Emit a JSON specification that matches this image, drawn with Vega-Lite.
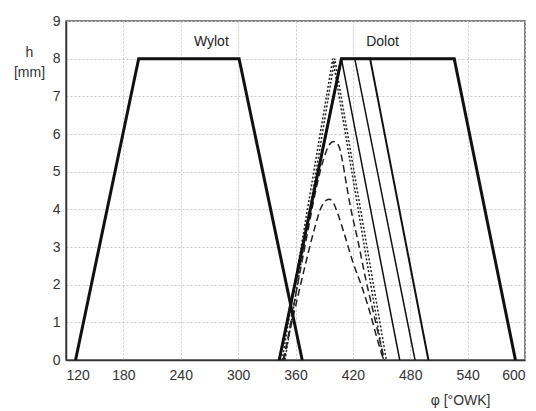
{
  "$schema": "https://vega.github.io/schema/vega-lite/v6.json",
  "autosize": "none",
  "width": 459,
  "height": 339,
  "padding": {"left": 66, "top": 21, "right": 11, "bottom": 51},
  "background": "white",
  "config": {
    "font": "Liberation Sans",
    "view": {"stroke": "#555", "strokeWidth": 1.5},
    "axis": {
      "labelFont": "Liberation Sans", "labelFontSize": 14, "labelColor": "#333",
      "titleFont": "Liberation Sans", "titleFontSize": 14, "titleFontWeight": "normal", "titleColor": "#333",
      "grid": true, "gridColor": "#c8c8c8", "gridDash": [2, 2], "gridWidth": 1,
      "domainColor": "#333", "domainWidth": 1.5, "ticks": false
    }
  },
  "datasets": {
    "curves": [
      {"s": "wylot", "x": 130, "y": 0}, {"s": "wylot", "x": 196, "y": 8}, {"s": "wylot", "x": 301, "y": 8}, {"s": "wylot", "x": 367, "y": 0},
      {"s": "dolot", "x": 343, "y": 0}, {"s": "dolot", "x": 408, "y": 8}, {"s": "dolot", "x": 526, "y": 8}, {"s": "dolot", "x": 590, "y": 0},
      {"s": "a", "x": 343, "y": 0}, {"s": "a", "x": 408, "y": 8}, {"s": "a", "x": 469, "y": 0},
      {"s": "b", "x": 343, "y": 0}, {"s": "b", "x": 408, "y": 8}, {"s": "b", "x": 422, "y": 8}, {"s": "b", "x": 485, "y": 0},
      {"s": "c", "x": 343, "y": 0}, {"s": "c", "x": 408, "y": 8}, {"s": "c", "x": 438, "y": 8}, {"s": "c", "x": 499, "y": 0},
      {"s": "dot1", "x": 346, "y": 0}, {"s": "dot1", "x": 399, "y": 8}, {"s": "dot1", "x": 452, "y": 0},
      {"s": "dot2", "x": 349, "y": 0}, {"s": "dot2", "x": 401, "y": 8}, {"s": "dot2", "x": 455, "y": 0},
      {"s": "d1", "x": 348, "y": 0}, {"s": "d1", "x": 360, "y": 1.7}, {"s": "d1", "x": 372, "y": 3.3}, {"s": "d1", "x": 382, "y": 4.6},
      {"s": "d1", "x": 389, "y": 5.3}, {"s": "d1", "x": 395, "y": 5.7}, {"s": "d1", "x": 400, "y": 5.8}, {"s": "d1", "x": 405, "y": 5.7},
      {"s": "d1", "x": 409, "y": 5.3}, {"s": "d1", "x": 413, "y": 4.7}, {"s": "d1", "x": 418, "y": 4.0}, {"s": "d1", "x": 425, "y": 3.2},
      {"s": "d1", "x": 433, "y": 2.2}, {"s": "d1", "x": 442, "y": 1.2}, {"s": "d1", "x": 453, "y": 0},
      {"s": "d2", "x": 347, "y": 0}, {"s": "d2", "x": 358, "y": 1.2}, {"s": "d2", "x": 370, "y": 2.5}, {"s": "d2", "x": 380, "y": 3.5},
      {"s": "d2", "x": 386, "y": 4.0}, {"s": "d2", "x": 391, "y": 4.22}, {"s": "d2", "x": 395, "y": 4.27}, {"s": "d2", "x": 399, "y": 4.2},
      {"s": "d2", "x": 404, "y": 3.9}, {"s": "d2", "x": 411, "y": 3.35}, {"s": "d2", "x": 420, "y": 2.6}, {"s": "d2", "x": 430, "y": 1.9},
      {"s": "d2", "x": 438, "y": 1.25}, {"s": "d2", "x": 445, "y": 0.6}, {"s": "d2", "x": 452, "y": 0}
    ],
    "labels": [
      {"x": 272, "y": 8.45, "t": "Wylot"},
      {"x": 451, "y": 8.45, "t": "Dolot"}
    ]
  },
  "encoding": {
    "x": {"field": "x", "type": "quantitative",
          "scale": {"domain": [120, 600], "nice": false, "zero": false},
          "axis": {"values": [120, 180, 240, 300, 360, 420, 480, 540, 600], "labelPadding": 8,
                   "title": "φ [°OWK]", "titleAnchor": "start", "titleAlign": "right", "titleX": 424, "titleY": 40, "titleBaseline": "middle"}},
    "y": {"field": "y", "type": "quantitative",
          "scale": {"domain": [0, 9], "nice": false},
          "axis": {"values": [0, 1, 2, 3, 4, 5, 6, 7, 8, 9], "labelPadding": 6,
                   "title": ["h", "[mm]"], "titleAngle": 0, "titleAlign": "center", "titleBaseline": "top",
                   "titleX": -37, "titleY": 24, "titleLineHeight": 20}}
  },
  "layer": [
    {"data": {"name": "curves"}, "transform": [{"filter": "datum.s === 'a' || datum.s === 'b'"}],
     "mark": {"type": "line", "color": "#111", "strokeWidth": 1.5}, "encoding": {"detail": {"field": "s"}, "order": {"field": "x", "type": "quantitative"}}},
    {"data": {"name": "curves"}, "transform": [{"filter": "datum.s === 'c'"}],
     "mark": {"type": "line", "color": "#111", "strokeWidth": 2}, "encoding": {"order": {"field": "x", "type": "quantitative"}}},
    {"data": {"name": "curves"}, "transform": [{"filter": "datum.s === 'dot1' || datum.s === 'dot2'"}],
     "mark": {"type": "line", "color": "#222", "strokeWidth": 1.5, "strokeDash": [2, 2]}, "encoding": {"detail": {"field": "s"}, "order": {"field": "x", "type": "quantitative"}}},
    {"data": {"name": "curves"}, "transform": [{"filter": "datum.s === 'd1' || datum.s === 'd2'"}],
     "mark": {"type": "line", "color": "#222", "strokeWidth": 1.5, "strokeDash": [7, 4], "interpolate": "monotone"}, "encoding": {"detail": {"field": "s"}, "order": {"field": "x", "type": "quantitative"}}},
    {"data": {"name": "curves"}, "transform": [{"filter": "datum.s === 'wylot' || datum.s === 'dolot'"}],
     "mark": {"type": "line", "color": "#111", "strokeWidth": 3}, "encoding": {"detail": {"field": "s"}, "order": {"field": "x", "type": "quantitative"}}},
    {"data": {"name": "labels"},
     "mark": {"type": "text", "font": "Liberation Sans", "fontSize": 14, "color": "#222", "baseline": "middle", "align": "center"},
     "encoding": {"text": {"field": "t"}}}
  ]
}
